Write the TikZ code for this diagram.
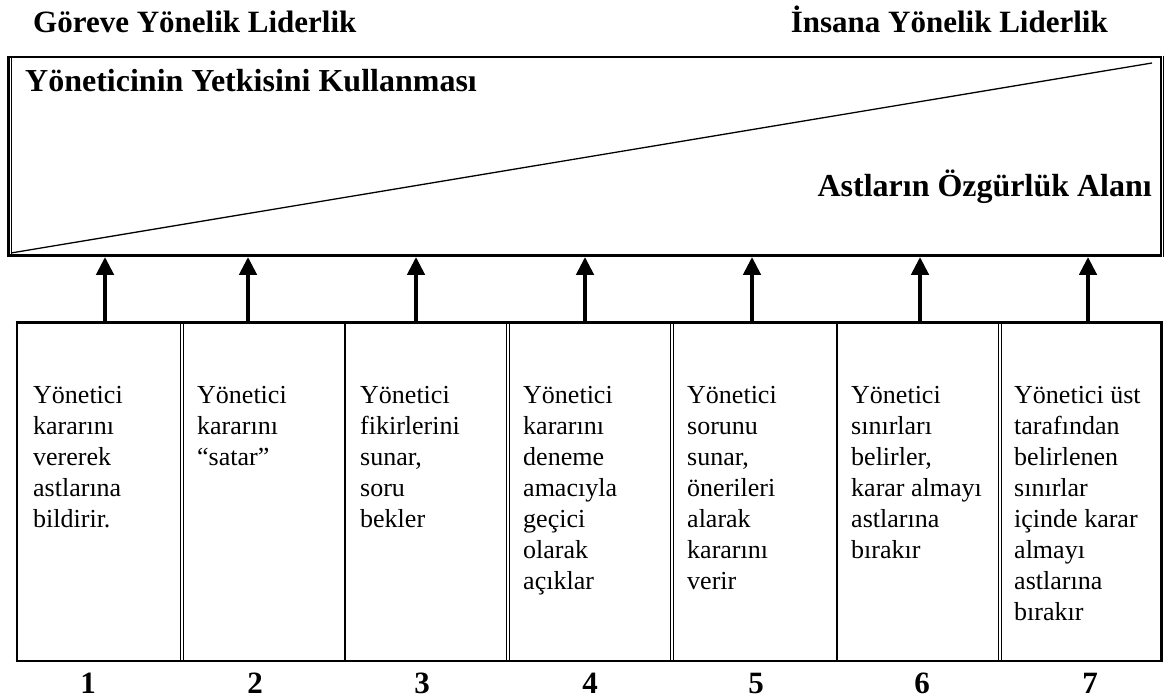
\documentclass[tikz,border=0pt]{standalone}
\usepackage{fontspec}
\setmainfont{Liberation Serif}
\usetikzlibrary{arrows.meta}

\begin{document}
\begin{tikzpicture}[x=1pt, y=-1pt,
    every node/.style={inner sep=0pt},
    head/.style={font=\fontsize{31}{36}\selectfont\bfseries},
    title/.style={font=\fontsize{32}{38}\selectfont\bfseries},
    body/.style={font=\fontsize{26}{31}\selectfont, align=left, anchor=north west},
    thickline/.style={line width=2.6pt},
    thinline/.style={line width=1pt},
    doubleline/.style={double, line width=1pt, double distance=2pt},
    up/.style={line width=4.5pt, -{Triangle[width=17pt,length=18pt]}, shorten >=1.5pt}]
  \useasboundingbox (0,0) rectangle (1164,700);
  \def \ya {322.5}
  \def \yb {661}
  \def \yt {386}
  % headings
  \node[head, anchor=base west] (gorev) at (33,33) {Göreve Yönelik Liderlik};
  \node[head, anchor=base east] (insan) at (1108,33) {İnsana Yönelik Liderlik};
  % upper box
  \node[minimum width=1152pt, minimum height=198pt, anchor=north west] (ust) at (8.5,57) {};
  \draw[thickline] (ust.north west) rectangle (ust.south east);
  \draw[thinline] ([xshift=2.8pt]ust.north west) -- ([xshift=2.8pt]ust.south west);
  \draw[thinline] ([xshift=3pt,yshift=1.3pt]ust.north east) -- ([xshift=3pt,yshift=-1.3pt]ust.south east);
  \coordinate (d0) at (11,253);
  \coordinate (d1) at (1152,63);
  \draw[line width=1.3pt] (d0) -- (d1);
  \node[title, anchor=base west] (yetki) at (25,92) {Yöneticinin Yetkisini Kullanması};
  \node[title, anchor=base east] (ozgur) at (1152,197) {Astların Özgürlük Alanı};
  % lower table
  \foreach \x in {17,345,837,1161.5}
    \draw[thickline] (\x,\ya) -- (\x,\yb);
  \foreach \x in {182,508,672,1000}
    \draw[doubleline] (\x,\ya) -- (\x,\yb);
  \draw[thickline] (15.7,\ya) -- (1162.8,\ya);
  \draw[thickline] (15.7,\yb) -- (1162.8,\yb);
  \node[body] (k1) at (33,\yt) {Yönetici\\kararını\\vererek\\astlarına\\bildirir.};
  \node[body] (k2) at (197,\yt) {Yönetici\\kararını\\“satar”};
  \node[body] (k3) at (360,\yt) {Yönetici\\fikirlerini\\sunar,\\soru\\bekler};
  \node[body] (k4) at (523,\yt) {Yönetici\\kararını\\deneme\\amacıyla\\geçici\\olarak\\açıklar};
  \node[body] (k5) at (687,\yt) {Yönetici\\sorunu\\sunar,\\önerileri\\alarak\\kararını\\verir};
  \node[body] (k6) at (851,\yt) {Yönetici\\sınırları\\belirler,\\karar almayı\\astlarına\\bırakır};
  \node[body] (k7) at (1014,\yt) {Yönetici üst\\tarafından\\belirlenen\\sınırlar\\içinde karar\\almayı\\astlarına\\bırakır};
  % arrows and numbers
  \foreach \i/\x/\n in {1/105/88,2/248/255,3/416/422,4/585/590,5/752/756,6/920/922,7/1088/1090} {
    \coordinate (a\i) at (\x,\ya);
    \draw[up] (a\i) -- (a\i |- ust.south);
    \node[head, anchor=base] (n\i) at (\n,693) {\i};
  }
\end{tikzpicture}
\end{document}
